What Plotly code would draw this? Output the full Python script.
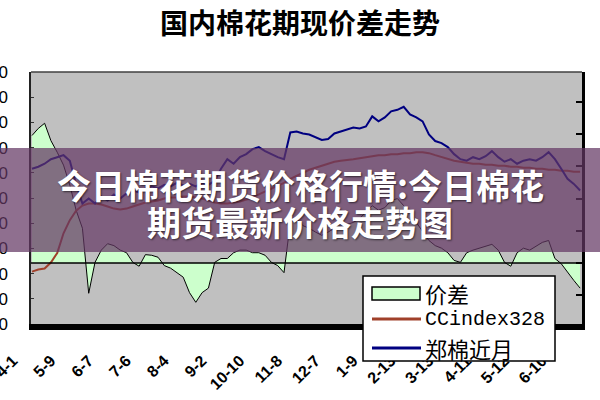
import plotly.graph_objects as go

# ---------------- data ----------------
tick_labels = ["4-1", "5-9", "6-7", "7-6", "8-4", "9-2", "10-10", "11-8",
               "12-7", "1-9", "2-13", "3-13", "4-11", "5-12", "6-10"]
tick_index = [0, 6, 12, 18, 24, 30, 36, 42, 48, 54, 60, 66, 72, 78, 84]

day = list(range(88))  # trading-day sample index

zhengmian = [14080, 14120, 14180, 14270, 14310, 14350, 14240, 13780, 13390, 13490,
             13390, 13530, 13450, 13570, 13490, 13590, 13650, 13610, 13690, 13730,
             13690, 13760, 13730, 13800, 13750, 13780, 13730, 13800, 13760, 13840,
             14080, 14270, 14180, 14310, 14370, 14470, 14510, 14430, 14370, 14310,
             14270, 14800, 14820, 14780, 14760, 14710, 14650, 14670, 14780, 14820,
             14860, 14900, 14880, 14920, 15120, 15020, 15100, 15220, 15250, 15310,
             15160, 15100, 15020, 14760, 14630, 14590, 14510, 14370, 14270, 14240,
             14310, 14270, 14330, 14430, 14310, 14220, 14270, 14180, 14240, 14270,
             14240, 14310, 14410, 14270, 14080, 13880, 13780, 13650]

ccindex = [12040, 12080, 12100, 12220, 12410, 12800, 13060, 13250, 13350, 13390,
           13390, 13370, 13330, 13290, 13270, 13290, 13330, 13370, 13410, 13430,
           13450, 13490, 13510, 13510, 13530, 13530, 13510, 13490, 13450, 13410,
           13390, 13390, 13410, 13430, 13470, 13510, 13570, 13630, 13690, 13750,
           13800, 13880, 13940, 14000, 14060, 14100, 14140, 14180, 14220, 14240,
           14250, 14270, 14290, 14310, 14330, 14350, 14350, 14370, 14370, 14390,
           14390, 14410, 14410, 14390, 14350, 14310, 14270, 14240, 14220, 14200,
           14180, 14180, 14160, 14160, 14140, 14140, 14120, 14120, 14100, 14100,
           14080, 14080, 14060, 14060, 14040, 14040, 14020, 14020]

spread = [1980, 2090, 2170, 1900, 1720, 1520, 1210, 820, 540, -470,
          10, 200, 300, 270, 200, 160, 10, -50, 130, 120,
          90, -40, -80, -150, -220, -460, -610, -460, -390, 10,
          70, 70, 160, 200, 200, 160, 160, 120, 10, -40,
          -150, 630, 690, 580, 540, 480, 430, 480, 540, 570,
          600, 630, 690, 790, 890, 820, 860, 970, 1000, 890,
          790, 630, 480, 350, 270, 230, 160, 40, 10, 160,
          200, 230, 260, 290, 200, 10, -50, 160, 230, 200,
          260, 320, 350, 70, -10, -150, -270, -390]

left_range = [11000, 16000]
right_range = [-947, 2966]

# ---------------- layout helpers (pixel -> paper) ----------------
L, R, T, B = 31, 18, 72, 76
PW, PH = 600 - L - R, 400 - T - B


def px(x):
    return (x - L) / PW


def py(y):
    return (400 - B - y) / PH


fig = go.Figure()
fig.add_trace(go.Scatter(x=day, y=spread, yaxis="y", mode="lines", name="价差",
                         fill="tozeroy", fillcolor="#ccffcc",
                         line=dict(color="black", width=1)))
fig.add_trace(go.Scatter(x=day, y=ccindex, yaxis="y2", mode="lines", name="CCindex328",
                         line=dict(color="#a0402a", width=2)))
fig.add_trace(go.Scatter(x=day, y=zhengmian, yaxis="y2", mode="lines", name="郑棉近月",
                         line=dict(color="#000080", width=2)))

shapes = [
    # zero line of spread
    dict(type="line", xref="paper", yref="y", x0=0, x1=1, y0=0, y1=0,
         line=dict(color="black", width=1.5), layer="above"),
    # top border
    dict(type="line", xref="paper", yref="paper", x0=0, x1=1, y0=1, y1=1,
         line=dict(color="#404040", width=1.5), layer="above"),
    # watermark band
    dict(type="rect", xref="paper", yref="paper", x0=px(-5), x1=px(605),
         y0=py(252), y1=py(148), fillcolor="rgba(100,55,100,0.72)",
         line=dict(width=0), layer="above"),
    # legend box
    dict(type="rect", xref="paper", yref="paper", x0=px(363), x1=px(555),
         y0=py(361), y1=py(276), fillcolor="white",
         line=dict(color="black", width=1.5), layer="above"),
    dict(type="rect", xref="paper", yref="paper", x0=px(372), x1=px(420),
         y0=py(300), y1=py(287), fillcolor="#ccffcc",
         line=dict(color="black", width=1.5), layer="above"),
    dict(type="line", xref="paper", yref="paper", x0=px(372), x1=px(421),
         y0=py(319), y1=py(319), line=dict(color="#a0402a", width=3), layer="above"),
    dict(type="line", xref="paper", yref="paper", x0=px(372), x1=px(421),
         y0=py(348), y1=py(348), line=dict(color="#000080", width=3), layer="above"),
]

cjk = "Noto Sans CJK SC"
annotations = [
    dict(text="国内棉花期现价差走势", x=px(300), y=py(22), xref="paper", yref="paper",
         showarrow=False, xanchor="center", yanchor="middle",
         font=dict(family=cjk, size=28, color="black", weight="bold")),
    dict(text="今日棉花期货价格行情:今日棉花", x=px(300), y=py(184), xref="paper", yref="paper",
         showarrow=False, xanchor="center", yanchor="middle",
         font=dict(family=cjk, size=34, color="white", weight="bold",
                   shadow="1px 1px 2px rgba(0,0,0,0.6)")),
    dict(text="期货最新价格走势图", x=px(300), y=py(221), xref="paper", yref="paper",
         showarrow=False, xanchor="center", yanchor="middle",
         font=dict(family=cjk, size=34, color="white", weight="bold",
                   shadow="1px 1px 2px rgba(0,0,0,0.6)")),
    dict(text="价差", x=px(423), y=py(293), xref="paper", yref="paper",
         showarrow=False, xanchor="left", yanchor="middle",
         font=dict(family=cjk, size=22, color="black")),
    dict(text="CCindex328", x=px(423), y=py(319), xref="paper", yref="paper",
         showarrow=False, xanchor="left", yanchor="middle",
         font=dict(family="Liberation Mono", size=20, color="black")),
    dict(text="郑棉近月", x=px(423), y=py(348), xref="paper", yref="paper",
         showarrow=False, xanchor="left", yanchor="middle",
         font=dict(family=cjk, size=22, color="black")),
]

fig.update_layout(
    template="none",
    width=600, height=400,
    margin=dict(l=L, r=R, t=T, b=B, pad=0),
    paper_bgcolor="white", plot_bgcolor="#c0c0c0",
    showlegend=False,
    xaxis=dict(range=[-0.16, 87.3], tickmode="array", tickvals=tick_index,
               ticktext=tick_labels, tickangle=-45, ticks="",
               showline=True, linecolor="black", linewidth=6,
               showgrid=False, zeroline=False, automargin=False,
               tickfont=dict(family="Liberation Sans", size=16, color="black", weight="bold"),
               ticklabelshift=-19, ticklabelstandoff=15, ticklabeloverflow="allow"),
    yaxis=dict(side="right", range=right_range, tick0=0, dtick=500,
               ticks="inside", ticklen=6, tickwidth=2, tickcolor="black",
               showticklabels=False, showline=True, linecolor="black", linewidth=3,
               showgrid=False, zeroline=False, automargin=False),
    yaxis2=dict(side="left", overlaying="y", range=left_range, tick0=11000, dtick=500,
                tickformat="d", ticks="inside", ticklen=3, tickwidth=1, tickcolor="#333333",
                showline=True, linecolor="#222222", linewidth=1.5,
                showgrid=False, zeroline=False, automargin=False,
                tickfont=dict(family="Liberation Sans", size=17, color="black"),
                ticklabelstandoff=18, ticklabeloverflow="allow"),
    shapes=shapes,
    annotations=annotations,
)

fig.write_html("out.html",
               config={"displayModeBar": False},
               post_script="document.body.style.margin='0px';"
                           "document.body.style.overflow='hidden';")
